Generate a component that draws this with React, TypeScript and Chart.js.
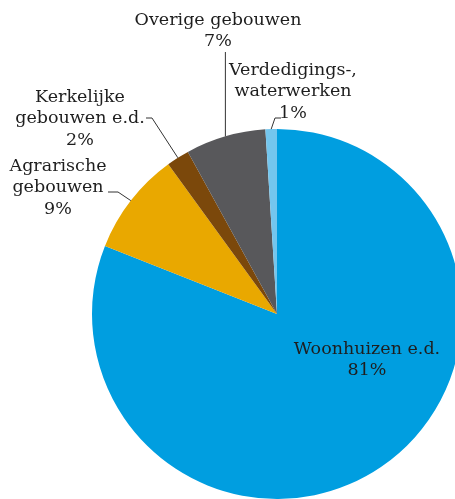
import React, { useEffect, useRef } from "react";
import { Chart, registerables } from "chart.js";

Chart.register(...registerables);

const categories: string[] = [
  "Woonhuizen e.d.",
  "Agrarische gebouwen",
  "Kerkelijke gebouwen e.d.",
  "Overige gebouwen",
  "Verdedigings-, waterwerken",
];
const values: number[] = [81, 9, 2, 7, 1];
const labelLines: string[][] = [
  ["Woonhuizen e.d.", "81%"],
  ["Agrarische", "gebouwen", "9%"],
  ["Kerkelijke", "gebouwen e.d.", "2%"],
  ["Overige gebouwen", "7%"],
  ["Verdedigings-,", "waterwerken", "1%"],
];
const colors: string[] = ["#009ee0", "#e9a800", "#7b480b", "#58585b", "#74c6ee"];

// label layout: text centre offset from pie centre (first line), leader elbow points offset from pie centre
type Layout = { dx: number; dy: number; path: [number, number][]; inside?: boolean };
const layouts: Layout[] = [
  { dx: 90, dy: 35, path: [], inside: true },
  { dx: -219, dy: -148, path: [[-159, -122], [-169, -122]] },
  { dx: -197, dy: -217, path: [[-125, -196], [-131, -196]] },
  { dx: -59, dy: -294, path: [[-52, -262]] },
  { dx: 16, dy: -244, path: [[-2, -196], [4, -196]] },
];

const FONT = '17.5px "DejaVu Serif"';
const LINE_H = 21.5;

const labelPlugin = {
  id: "pieLabels",
  afterDraw(chart: any) {
    const ctx = chart.ctx;
    const meta = chart.getDatasetMeta(0);
    ctx.save();
    meta.data.forEach((arc: any, i: number) => {
      const lay = layouts[i];
      const cx = arc.x;
      const cy = arc.y;
      const mid = (arc.startAngle + arc.endAngle) / 2;
      const ax = cx + Math.cos(mid) * arc.outerRadius;
      const ay = cy + Math.sin(mid) * arc.outerRadius;
      if (!lay.inside && lay.path.length) {
        ctx.beginPath();
        ctx.strokeStyle = "#333333";
        ctx.lineWidth = 1;
        ctx.moveTo(ax, ay);
        lay.path.forEach(([px, py], k) => {
          const x = k === 0 && i === 3 ? ax : cx + px;
          ctx.lineTo(x, cy + py);
        });
        ctx.stroke();
      }
      ctx.fillStyle = "#1e1e1e";
      ctx.font = FONT;
      ctx.textAlign = "center";
      ctx.textBaseline = "middle";
      labelLines[i].forEach((t, k) => {
        ctx.fillText(t, cx + lay.dx, cy + lay.dy + k * LINE_H);
      });
    });
    ctx.restore();
  },
};

export default function App() {
  const ref = useRef<HTMLCanvasElement | null>(null);
  useEffect(() => {
    if (!ref.current) return;
    const chart = new Chart(ref.current, {
      type: "pie",
      data: {
        labels: categories,
        datasets: [
          {
            data: values,
            backgroundColor: colors,
            borderWidth: 0,
          },
        ],
      },
      options: {
        animation: false,
        responsive: false,
        maintainAspectRatio: false,
        layout: { padding: { top: 129, bottom: 0, left: 0, right: 6 } },
        plugins: {
          legend: { display: false },
          tooltip: { enabled: false },
        },
      },
      plugins: [labelPlugin],
    });
    return () => chart.destroy();
  }, []);
  return (
    <div style={{ position: "fixed", left: 0, top: 0, width: 560, height: 499, background: "#fff" }}>
      <canvas ref={ref} width={560} height={499} style={{ width: 560, height: 499, display: "block" }} />
    </div>
  );
}
